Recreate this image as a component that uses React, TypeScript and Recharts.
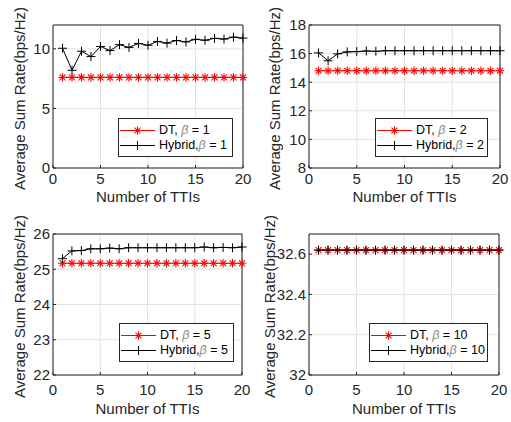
import React from 'react';
import { LineChart, Line, XAxis, YAxis, CartesianGrid, Legend, ReferenceLine, Label } from 'recharts';

// ---------- data ----------
const ttis = [1, 2, 3, 4, 5, 6, 7, 8, 9, 10, 11, 12, 13, 14, 15, 16, 17, 18, 19, 20];

const dtBeta1 = [7.6, 7.6, 7.6, 7.6, 7.6, 7.6, 7.6, 7.6, 7.6, 7.6, 7.6, 7.6, 7.6, 7.6, 7.6, 7.6, 7.6, 7.6, 7.6, 7.6];
const hybridBeta1 = [10.05, 8.2, 9.8, 9.35, 10.2, 9.85, 10.35, 10.12, 10.45, 10.3, 10.62, 10.48, 10.7, 10.58, 10.8, 10.72, 10.88, 10.82, 10.98, 10.9];

const dtBeta2 = [14.8, 14.8, 14.8, 14.8, 14.8, 14.8, 14.8, 14.8, 14.8, 14.8, 14.8, 14.8, 14.8, 14.8, 14.8, 14.8, 14.8, 14.8, 14.8, 14.8];
const hybridBeta2 = [16.05, 15.5, 15.98, 16.12, 16.14, 16.18, 16.16, 16.2, 16.2, 16.2, 16.2, 16.2, 16.2, 16.2, 16.2, 16.2, 16.2, 16.2, 16.2, 16.2];

const dtBeta5 = [25.17, 25.17, 25.17, 25.17, 25.17, 25.17, 25.17, 25.17, 25.17, 25.17, 25.17, 25.17, 25.17, 25.17, 25.17, 25.17, 25.17, 25.17, 25.17, 25.17];
const hybridBeta5 = [25.3, 25.52, 25.53, 25.58, 25.58, 25.6, 25.58, 25.61, 25.61, 25.61, 25.61, 25.61, 25.61, 25.61, 25.61, 25.63, 25.61, 25.62, 25.61, 25.63];

const dtBeta10 = [32.62, 32.62, 32.62, 32.62, 32.62, 32.62, 32.62, 32.62, 32.62, 32.62, 32.62, 32.62, 32.62, 32.62, 32.62, 32.62, 32.62, 32.62, 32.62, 32.62];
const hybridBeta10 = [32.62, 32.62, 32.62, 32.62, 32.62, 32.62, 32.62, 32.62, 32.62, 32.62, 32.62, 32.62, 32.62, 32.62, 32.62, 32.62, 32.62, 32.62, 32.62, 32.62];

const xTicks = [0, 5, 10, 15, 20];
const yTicks1 = [0, 5, 10];
const yTicks2 = [8, 10, 12, 14, 16, 18];
const yTicks5 = [22, 23, 24, 25, 26];
const yTicks10 = [32, 32.2, 32.4, 32.6];

const xLabelText = 'Number of TTIs';
const yLabelText = 'Average Sum Rate(bps/Hz)';

// ---------- styles ----------
const FONT = '"Liberation Sans", Arial, Helvetica, sans-serif';
const AX = '#262626';
const GRID = '#e3e3e3';
const RED = '#ff0000';
const BLACK = '#000000';

const Asterisk = ({ cx, cy, r = 4.2, color = RED }: any) => {
  const d = r * 0.707;
  return (
    <g stroke={color} strokeWidth={1.1} fill="none">
      <line x1={cx - r} y1={cy} x2={cx + r} y2={cy} />
      <line x1={cx} y1={cy - r} x2={cx} y2={cy + r} />
      <line x1={cx - d} y1={cy - d} x2={cx + d} y2={cy + d} />
      <line x1={cx - d} y1={cy + d} x2={cx + d} y2={cy - d} />
    </g>
  );
};

const Plus = ({ cx, cy, r = 4.5, color = BLACK }: any) => (
  <g stroke={color} strokeWidth={1} fill="none">
    <line x1={cx - r} y1={cy} x2={cx + r} y2={cy} />
    <line x1={cx} y1={cy - r} x2={cx} y2={cy + r} />
  </g>
);

const LegendBox = ({ beta, w }: any) => {
  const rows = [
    { name: 'DT,', sep: ' ', color: RED, marker: 'ast' },
    { name: 'Hybrid,', sep: '', color: BLACK, marker: 'plus' },
  ];
  return (
    <div
      style={{
        width: w,
        boxSizing: 'border-box',
        border: `1px solid ${AX}`,
        background: '#fff',
        padding: '4px 0 3px 0',
        fontFamily: FONT,
        fontSize: 12.5,
        color: '#000',
        lineHeight: '15px',
      }}
    >
      {rows.map((r) => (
        <div key={r.name} style={{ display: 'flex', alignItems: 'center', height: 15 }}>
          <svg width={37} height={15} style={{ display: 'block', flex: 'none' }}>
            <line x1={1} x2={36} y1={7.5} y2={7.5} stroke={r.color} strokeWidth={1} />
            {r.marker === 'ast' ? <Asterisk cx={18.5} cy={7.5} /> : <Plus cx={18.5} cy={7.5} />}
          </svg>
          <span style={{ marginLeft: 3, whiteSpace: 'nowrap' }}>
            {r.name}
            {r.sep}
            <i style={{ color: '#8a8a8a' }}>β</i> = {beta}
          </span>
        </div>
      ))}
    </div>
  );
};

type PanelProps = {
  left: number;
  top: number;
  width: number;
  height: number;
  marginTop: number;
  marginRight: number;
  yAxisWidth: number;
  xAxisHeight: number;
  domain: [number, number];
  yTicks: number[];
  dt: number[];
  hybrid: number[];
  beta: number;
  legendLeft: number;
  legendTop: number;
  legendWidth: number;
  xTickMargin: number;
  xLabelOffset: number;
  yLabelX: number;
};

const Panel = (p: PanelProps) => {
  const data = ttis.map((t, i) => ({ tti: t, dt: p.dt[i], hybrid: p.hybrid[i] }));
  const plotTop = p.marginTop;
  const plotBottom = p.height - p.xAxisHeight;
  const plotLeft = p.yAxisWidth;
  const plotRight = p.width - p.marginRight;

  const renderYLabel = () => {
    const cy = (plotTop + plotBottom) / 2 + 2;
    return (
      <text
        x={p.yLabelX}
        y={cy}
        transform={`rotate(-90, ${p.yLabelX}, ${cy})`}
        textAnchor="middle"
        fontFamily={FONT}
        fontSize={15}
        fill={AX}
      >
        {yLabelText}
      </text>
    );
  };
  const renderXLabel = () => (
    <text
      x={(plotLeft + plotRight) / 2}
      y={plotBottom + p.xLabelOffset}
      textAnchor="middle"
      fontFamily={FONT}
      fontSize={15}
      fill={AX}
    >
      {xLabelText}
    </text>
  );

  return (
    <div style={{ position: 'absolute', left: p.left, top: p.top, width: p.width, height: p.height }}>
      <LineChart
        width={p.width}
        height={p.height}
        data={data}
        margin={{ top: p.marginTop, right: p.marginRight, bottom: 0, left: 0 }}
      >
        <CartesianGrid stroke={GRID} strokeWidth={1} />
        <XAxis
          dataKey="tti"
          type="number"
          domain={[0, 20]}
          ticks={xTicks}
          height={p.xAxisHeight}
          stroke={AX}
          tickSize={-3}
          tickMargin={p.xTickMargin}
          tick={{ fill: AX, fontFamily: FONT, fontSize: 15 }}
          axisLine={{ stroke: AX }}
          tickLine={{ stroke: AX }}
        >
          <Label content={renderXLabel} />
        </XAxis>
        <YAxis
          type="number"
          domain={p.domain}
          ticks={p.yTicks}
          width={p.yAxisWidth}
          allowDataOverflow
          stroke={AX}
          tickSize={-3}
          tickMargin={6}
          tick={{ fill: AX, fontFamily: FONT, fontSize: 15 }}
          axisLine={{ stroke: AX }}
          tickLine={{ stroke: AX }}
        >
          <Label content={renderYLabel} />
        </YAxis>
        <ReferenceLine y={p.domain[1]} stroke={AX} strokeWidth={1} />
        <ReferenceLine x={20} stroke={AX} strokeWidth={1} />
        <Line
          type="linear"
          dataKey="dt"
          stroke={RED}
          strokeWidth={1.2}
          isAnimationActive={false}
          dot={(d: any) => <Asterisk key={`dt-${d.index}`} cx={d.cx} cy={d.cy} />}
          activeDot={false}
        />
        <Line
          type="linear"
          dataKey="hybrid"
          stroke={BLACK}
          strokeWidth={1}
          isAnimationActive={false}
          dot={(d: any) => <Plus key={`hy-${d.index}`} cx={d.cx} cy={d.cy} />}
          activeDot={false}
        />
        <Legend
          verticalAlign="middle"
          align="center"
          wrapperStyle={{ left: p.legendLeft, top: p.legendTop, width: p.legendWidth, height: 'auto' }}
          content={() => <LegendBox beta={p.beta} w={p.legendWidth} />}
        />
      </LineChart>
    </div>
  );
};

export default function App() {
  return (
    <div style={{ position: 'absolute', left: 0, top: 0, width: 511, height: 422, background: '#fff', overflow: 'hidden' }}>
      <Panel
        left={0} top={0} width={255} height={210}
        marginTop={25} marginRight={12} yAxisWidth={53} xAxisHeight={42}
        domain={[0, 12]} yTicks={yTicks1} dt={dtBeta1} hybrid={hybridBeta1} beta={1}
        legendLeft={118} legendTop={118} legendWidth={115}
        xTickMargin={8} xLabelOffset={34} yLabelX={25}
      />
      <Panel
        left={255} top={0} width={256} height={210}
        marginTop={25} marginRight={11} yAxisWidth={54} xAxisHeight={42}
        domain={[8, 18]} yTicks={yTicks2} dt={dtBeta2} hybrid={hybridBeta2} beta={2}
        legendLeft={120} legendTop={118} legendWidth={113}
        xTickMargin={8} xLabelOffset={34} yLabelX={25}
      />
      <Panel
        left={0} top={210} width={255} height={212}
        marginTop={24} marginRight={13} yAxisWidth={53} xAxisHeight={47}
        domain={[22, 26]} yTicks={yTicks5} dt={dtBeta5} hybrid={hybridBeta5} beta={5}
        legendLeft={119} legendTop={113} legendWidth={115}
        xTickMargin={12} xLabelOffset={39} yLabelX={25}
      />
      <Panel
        left={255} top={210} width={256} height={212}
        marginTop={24} marginRight={12} yAxisWidth={54} xAxisHeight={47}
        domain={[32, 32.7]} yTicks={yTicks10} dt={dtBeta10} hybrid={hybridBeta10} beta={10}
        legendLeft={114} legendTop={113} legendWidth={119}
        xTickMargin={12} xLabelOffset={39} yLabelX={20}
      />
    </div>
  );
}
